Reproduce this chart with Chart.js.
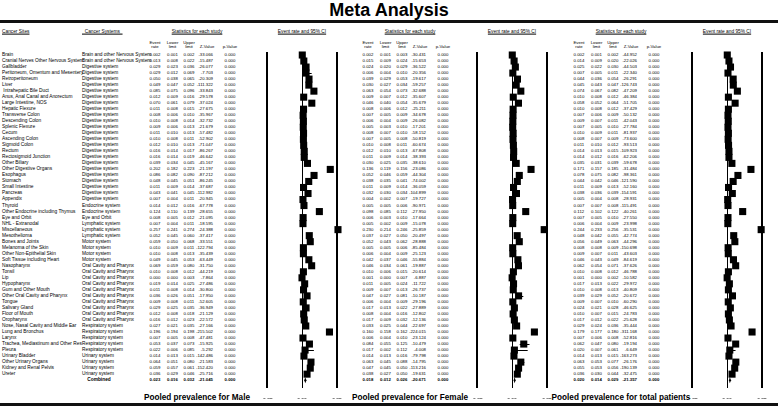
<!DOCTYPE html>
<html>
<head>
<meta charset="utf-8">
<script src="https://cdn.jsdelivr.net/npm/chart.js@4.4.0/dist/chart.umd.min.js"></script>
<style>
  html, body { margin: 0; padding: 0; background: #fff; }
  #page { position: relative; width: 778px; height: 409px; overflow: hidden;
          font-family: "Liberation Sans", Arial, sans-serif; color: #000; }
  .t { position: absolute; white-space: pre; line-height: 1; }
  .rule { position: absolute; left: 0; width: 778px; background: #111; }
  canvas { position: absolute; z-index: 2; }
</style>
</head>
<body>
<div id="page"></div>
<script>
// ---- data ----
const sites = ["Brain", "Cranial Nerves Other Nervous System", "Gallbladder", "Peritoneum, Omentum and Mesentery",
  "Retroperitoneum", "Liver", " Intrahepatic Bile Duct", "Anus, Anal Canal and Anorectum", "Large Intestine, NOS",
  "Hepatic Flexure", "Transverse Colon", "Descending Colon", "Splenic Flexure", "Cecum", "Ascending Colon",
  "Sigmoid Colon", "Rectum", "Rectosigmoid Junction", "Other Biliary", "Other Digestive Organs", "Esophagus",
  "Stomach", "Small Intestine", "Pancreas", "Appendix", "Thyroid", "Other Endocrine including Thymus",
  "Eye and Orbit", "NHL - Extranodal", "Miscellaneous", "Mesothelioma", "Bones and Joints", "Melanoma of the Skin",
  "Other Non-Epithelial Skin", "Soft Tissue including Heart", "Nasopharynx", "Tonsil", "Lip", "Hypopharynx",
  "Gum and Other Mouth", "Other Oral Cavity and Pharynx", "Tongue", "Salivary Gland", "Floor of Mouth",
  "Oropharynx", "Nose, Nasal Cavity and Middle Ear", "Lung and Bronchus", "Larynx",
  "Trachea, Mediastinum and Other Res", "Pleura", "Urinary Bladder", "Other Urinary Organs",
  "Kidney and Renal Pelvis", "Ureter"];

// cancer system name and how many consecutive sites belong to it
const systemNames = ["Brain and other Nervous System", "Digestive system", "Endocrine system", "Eye and Orbit",
  "Lymphatic system", "Motor system", "Oral Cavity and Pharynx", "Respiratory system", "Urinary system"];
const systemCounts = [2, 23, 2, 1, 3, 4, 10, 5, 4];

const maleRate = [0.002,0.013,0.029,0.029,0.050,0.049,0.085,0.012,0.070,0.011,0.008,0.010,0.009,0.011,0.010,0.012,0.016,0.016,0.039,0.202,0.086,0.048,0.011,0.043,0.007,0.014,0.124,0.008,0.007,0.257,0.052,0.059,0.010,0.010,0.049,0.069,0.010,0.000,0.019,0.011,0.036,0.009,0.029,0.012,0.016,0.027,0.196,0.007,0.053,0.022,0.014,0.064,0.059,0.036];
const maleLower = [0.001,0.008,0.023,0.012,0.038,0.047,0.075,0.009,0.061,0.008,0.006,0.008,0.006,0.010,0.008,0.010,0.014,0.014,0.034,0.182,0.082,0.045,0.009,0.041,0.004,0.012,0.110,0.005,0.004,0.241,0.045,0.050,0.009,0.008,0.045,0.059,0.008,0.000,0.014,0.008,0.026,0.008,0.025,0.008,0.012,0.021,0.194,0.005,0.037,0.006,0.013,0.051,0.057,0.029];
const maleUpper = [0.002,0.022,0.036,0.069,0.065,0.052,0.096,0.016,0.079,0.015,0.010,0.014,0.013,0.013,0.011,0.013,0.017,0.019,0.045,0.223,0.090,0.051,0.014,0.045,0.011,0.016,0.139,0.012,0.011,0.274,0.060,0.068,0.011,0.013,0.053,0.080,0.012,0.003,0.025,0.014,0.051,0.011,0.035,0.018,0.023,0.035,0.198,0.008,0.073,0.085,0.015,0.080,0.061,0.046];
const maleZ = [-33.066,-15.487,-26.077,-7.703,-20.309,-111.322,-33.843,-29.578,-37.024,-27.675,-35.967,-32.732,-21.679,-57.482,-52.902,-71.047,-86.267,-46.642,-45.167,-21.197,-87.212,-86.245,-37.687,-112.982,-20.945,-67.778,-28.655,-21.095,-18.595,-24.388,-37.417,-33.551,-122.794,-35.439,-63.449,-31.750,-44.219,-7.864,-27.486,-30.800,-17.950,-52.605,-36.949,-21.129,-22.572,-27.166,-215.502,-47.481,-15.925,-5.292,-142.486,-21.583,-152.420,-25.716];
const maleCombined = [0.023, 0.016, 0.032, -21.045];

const femaleRate = [0.002,0.015,0.024,0.006,0.039,0.030,0.063,0.009,0.046,0.008,0.007,0.006,0.005,0.008,0.007,0.010,0.012,0.011,0.030,0.136,0.052,0.038,0.011,0.032,0.004,0.005,0.098,0.006,0.005,0.230,0.037,0.052,0.005,0.006,0.042,0.046,0.010,0.001,0.011,0.009,0.047,0.006,0.017,0.008,0.017,0.033,0.160,0.006,0.084,0.017,0.014,0.063,0.047,0.038];
const femaleLower = [0.001,0.009,0.020,0.004,0.029,0.027,0.054,0.007,0.040,0.006,0.005,0.004,0.003,0.007,0.005,0.008,0.010,0.009,0.025,0.119,0.046,0.035,0.009,0.030,0.002,0.005,0.085,0.003,0.002,0.214,0.027,0.043,0.005,0.004,0.037,0.034,0.006,0.000,0.005,0.007,0.027,0.004,0.013,0.004,0.009,0.025,0.158,0.004,0.055,0.002,0.013,0.045,0.045,0.027];
const femaleUpper = [0.003,0.024,0.029,0.010,0.053,0.034,0.073,0.012,0.054,0.012,0.009,0.009,0.010,0.010,0.008,0.011,0.013,0.014,0.035,0.156,0.059,0.041,0.014,0.034,0.007,0.006,0.112,0.010,0.009,0.246,0.050,0.062,0.006,0.009,0.046,0.061,0.015,0.007,0.024,0.013,0.081,0.009,0.022,0.016,0.032,0.044,0.162,0.010,0.125,0.112,0.016,0.088,0.050,0.050];
const femaleZ = [-30.431,-15.653,-36.522,-20.356,-19.617,-59.257,-32.688,-35.607,-35.679,-25.211,-34.678,-26.082,-17.201,-58.152,-50.819,-60.674,-67.808,-38.393,-38.610,-23.086,-44.304,-74.002,-36.059,-104.899,-19.727,-90.971,-27.950,-17.664,-15.078,-25.859,-20.497,-28.888,-85.484,-25.123,-55.884,-19.887,-20.614,-6.887,-11.722,-26.737,-10.187,-29.196,-27.889,-12.802,-12.136,-22.697,-224.015,-23.124,-10.479,-4.008,-79.798,-14.795,-113.216,-19.631];
const femaleCombined = [0.018, 0.012, 0.026, -20.671];

const totalRate = [0.002,0.014,0.025,0.007,0.044,0.045,0.074,0.010,0.058,0.010,0.007,0.009,0.007,0.010,0.008,0.011,0.014,0.014,0.035,0.171,0.078,0.044,0.011,0.038,0.005,0.007,0.112,0.007,0.006,0.244,0.048,0.056,0.008,0.009,0.046,0.062,0.010,0.001,0.017,0.010,0.039,0.009,0.024,0.010,0.017,0.029,0.179,0.007,0.062,0.020,0.014,0.063,0.055,0.036];
const totalLower = [0.001,0.009,0.022,0.005,0.036,0.043,0.067,0.008,0.052,0.008,0.006,0.007,0.005,0.009,0.007,0.010,0.013,0.012,0.031,0.157,0.075,0.042,0.009,0.036,0.004,0.007,0.102,0.005,0.004,0.233,0.042,0.049,0.008,0.007,0.043,0.054,0.008,0.000,0.013,0.008,0.029,0.007,0.021,0.007,0.012,0.024,0.177,0.006,0.047,0.007,0.013,0.053,0.053,0.030];
const totalUpper = [0.002,0.020,0.030,0.011,0.054,0.047,0.082,0.012,0.064,0.012,0.009,0.011,0.010,0.011,0.009,0.012,0.015,0.016,0.039,0.185,0.082,0.046,0.013,0.039,0.008,0.008,0.122,0.010,0.009,0.256,0.055,0.063,0.009,0.011,0.049,0.071,0.012,0.002,0.022,0.013,0.052,0.010,0.028,0.015,0.022,0.036,0.180,0.008,0.080,0.061,0.015,0.077,0.056,0.044];
const totalZ = [-44.952,-22.026,-44.503,-22.340,-26.291,-126.743,-47.209,-46.384,-51.705,-37.429,-50.132,-42.043,-27.784,-81.937,-73.600,-93.513,-109.923,-62.206,-59.678,-31.484,-98.361,-121.590,-52.160,-154.591,-28.931,-115.491,-40.261,-27.550,-23.998,-35.531,-42.774,-44.296,-150.698,-43.603,-84.619,-37.626,-46.788,-10.582,-29.972,-40.809,-20.672,-60.290,-46.625,-24.783,-25.628,-35.444,-311.168,-52.816,-19.194,-6.649,-163.273,-26.176,-190.139,-32.475];
const totalCombined = [0.020, 0.014, 0.029, -21.357];

const pValue = 0.000;            // every p-value in the table reads 0.000
const axisTicks = [-0.25, 0, 0.25];

// ---- layout ----
const FONT = '"Liberation Sans", Arial, sans-serif';
const ROW0 = 55, ROWH = 6.02;      // y of first row, row pitch
const NAME_SIZE = 4.8, NUM_SIZE = 4.3;
const page = document.getElementById('page');

function put(text, x, y, size, opts = {}) {
  const d = document.createElement('div');
  d.className = 't';
  d.textContent = text;
  d.style.fontSize = size + 'px';
  if (opts.bold) d.style.fontWeight = 'bold';
  if (opts.underline) d.style.textDecoration = 'underline';
  const tx = opts.align === 'center' ? '-50%' : opts.align === 'right' ? '-100%' : '0';
  d.style.left = x + 'px';
  d.style.top = y + 'px';
  d.style.transform = `translate(${tx}, -50%)`;
  page.appendChild(d);
}

function rule(y, h) {
  const d = document.createElement('div');
  d.className = 'rule';
  d.style.top = y + 'px';
  d.style.height = h + 'px';
  page.appendChild(d);
}

const rowY = i => ROW0 + i * ROWH;

// title and rules
put('Meta Analysis', 389, 9.5, 18, { bold: true, align: 'center' });
rule(20, 3);
rule(403, 3);

// left columns
put('Cancer Sites', 2, 32, NAME_SIZE, { underline: true });
put('\u00a0\u00a0Cancer Systems\u00a0\u00a0', 82, 32, NAME_SIZE, { underline: true });
sites.forEach((s, i) => put(s, 2, rowY(i), NAME_SIZE));
let r = 0;
systemNames.forEach((name, k) => {
  for (let j = 0; j < systemCounts[k]; j++) put(name, 82, rowY(r++), NAME_SIZE);
});
put('Combined', 99, rowY(sites.length), NAME_SIZE, { bold: true, align: 'center' });

// statistics blocks: x of event rate column, left edge of the plot
const panels = [
  { ev: 155, plotLeft: 267, title: 'Pooled prevalence for Male', rate: maleRate, lower: maleLower, upper: maleUpper, z: maleZ, comb: maleCombined },
  { ev: 368, plotLeft: 477, title: 'Pooled prevalence for Female', rate: femaleRate, lower: femaleLower, upper: femaleUpper, z: femaleZ, comb: femaleCombined },
  { ev: 579, plotLeft: 692, title: 'Pooled prevalence for total patients', rate: totalRate, lower: totalLower, upper: totalUpper, z: totalZ, comb: totalCombined }
];

function statBlock(p) {
  const cLow = p.ev + 17.5, cUp = p.ev + 34, zRight = p.ev + 58, cP = p.ev + 75;
  put('Statistics for each study', p.ev + 42, 32, NAME_SIZE, { underline: true, align: 'center' });
  put('Event', p.ev, 42.5, NUM_SIZE, { align: 'center' });
  put('rate', p.ev, 47, NUM_SIZE, { align: 'center' });
  put('Lower', cLow, 42.5, NUM_SIZE, { align: 'center' });
  put('limit', cLow, 47, NUM_SIZE, { align: 'center' });
  put('Upper', cUp, 42.5, NUM_SIZE, { align: 'center' });
  put('limit', cUp, 47, NUM_SIZE, { align: 'center' });
  put('Z-Value', zRight - 6, 47, NUM_SIZE, { align: 'center' });
  put('p-Value', cP, 47, NUM_SIZE, { align: 'center' });
  const line = (vals, y, bold) => {
    put(vals[0].toFixed(3), p.ev, y, NUM_SIZE, { align: 'center', bold });
    put(vals[1].toFixed(3), cLow, y, NUM_SIZE, { align: 'center', bold });
    put(vals[2].toFixed(3), cUp, y, NUM_SIZE, { align: 'center', bold });
    put(vals[3].toFixed(3), zRight, y, NUM_SIZE, { align: 'right', bold });
    put(pValue.toFixed(3), cP, y, NUM_SIZE, { align: 'center', bold });
  };
  p.rate.forEach((v, i) => line([v, p.lower[i], p.upper[i], p.z[i]], rowY(i), false));
  line([p.comb[0], p.comb[1], p.comb[2], p.comb[3]], rowY(sites.length), true);
  put(p.title, p.ev + 42, 398, 8.2, { bold: true, align: 'center' });
  put('Event rate and 95% CI', p.plotLeft + 35, 32, NAME_SIZE, { underline: true, align: 'center' });
}

// frame lines, whiskers and the pooled diamond, all placed through the chart's scales
const ciPlugin = {
  id: 'ci',
  beforeDatasetsDraw(chart) {
    const { ctx, chartArea, scales: { x } } = chart;
    ctx.save();
    ctx.strokeStyle = '#000';
    axisTicks.forEach(v => {
      const w = v === 0 ? 1 : 2;
      const px = Math.round(x.getPixelForValue(v)) + (w === 1 ? 0.5 : 0);
      ctx.lineWidth = w;
      ctx.beginPath();
      ctx.moveTo(px, chartArea.top);
      ctx.lineTo(px, chartArea.bottom);
      ctx.stroke();
    });
    ctx.restore();
  },
  afterDatasetsDraw(chart, args, opts) {
    const { ctx, scales: { x, y } } = chart;
    ctx.save();
    ctx.strokeStyle = '#000';
    ctx.lineWidth = 1;
    opts.lower.forEach((lo, i) => {
      const py = Math.round(y.getPixelForValue(i + 1)) + 0.5;
      ctx.beginPath();
      ctx.moveTo(x.getPixelForValue(lo), py);
      ctx.lineTo(x.getPixelForValue(opts.upper[i]), py);
      ctx.stroke();
    });
    const [c, lo, up] = opts.comb;
    const py = y.getPixelForValue(opts.lower.length + 1);
    ctx.fillStyle = '#000';
    ctx.beginPath();
    ctx.moveTo(x.getPixelForValue(lo), py);
    ctx.lineTo(x.getPixelForValue(c), py - 3);
    ctx.lineTo(x.getPixelForValue(up), py);
    ctx.lineTo(x.getPixelForValue(c), py + 3);
    ctx.closePath();
    ctx.fill();
    ctx.restore();
  }
};

function forest(p) {
  const PADX = 12, TOP = 47, PLOT_W = 70;
  const cv = document.createElement('canvas');
  cv.width = PLOT_W + 2 * PADX;
  cv.height = 352;
  cv.style.left = (p.plotLeft - PADX) + 'px';
  cv.style.top = TOP + 'px';
  page.appendChild(cv);
  new Chart(cv, {
    type: 'scatter',
    data: {
      datasets: [{
        data: p.rate.map((v, i) => ({ x: v, y: i + 1 })),
        pointStyle: 'rect',
        pointRadius: 5,
        pointHoverRadius: 5,
        backgroundColor: '#000',
        borderWidth: 0,
        clip: false
      }]
    },
    options: {
      responsive: false,
      animation: false,
      devicePixelRatio: 1,
      events: [],
      layout: { padding: { left: PADX, right: PADX, top: 2, bottom: 0 } },
      plugins: {
        legend: { display: false },
        tooltip: { enabled: false },
        ci: { lower: p.lower, upper: p.upper, comb: p.comb }
      },
      scales: {
        x: {
          type: 'linear',
          min: axisTicks[0],
          max: axisTicks[axisTicks.length - 1],
          afterBuildTicks: s => { s.ticks = axisTicks.map(v => ({ value: v })); },
          afterFit: s => { s.height = 11; },
          ticks: {
            callback: v => Number(v).toFixed(2),
            font: { size: 5, family: FONT },
            color: '#000',
            padding: 2,
            maxRotation: 0,
            autoSkip: false
          },
          grid: { display: false },
          border: { display: false }
        },
        y: { type: 'linear', display: false, reverse: true, min: 0.5, max: 56.3 }
      }
    },
    plugins: [ciPlugin]
  });
}

panels.forEach(p => { statBlock(p); forest(p); });
</script>
</body>
</html>
